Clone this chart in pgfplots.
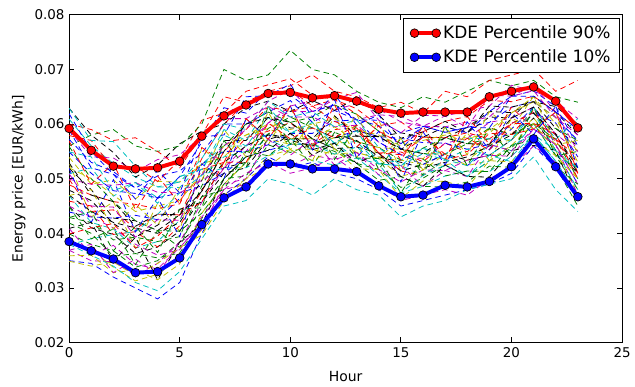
\documentclass[border=0pt]{standalone}
\usepackage{pgfplots}
\pgfplotsset{compat=1.18}
\usetikzlibrary{calc}
\usepackage{fontspec}
\setmainfont{DejaVu Sans}
\definecolor{mb}{rgb}{0,0,1}
\definecolor{mg}{rgb}{0,0.5,0}
\definecolor{mr}{rgb}{1,0,0}
\definecolor{mc}{rgb}{0,0.75,0.75}
\definecolor{mm}{rgb}{0.75,0,0.75}
\definecolor{my}{rgb}{0.75,0.75,0}
\definecolor{mk}{rgb}{0,0,0}
\newcommand{\ds}[2]{\addplot[color=#1, line width=0.6pt, dash pattern=on 4.2pt off 3pt, forget plot] table[x expr=\coordindex, y index=0, header=false, row sep=\\] {#2\\};}
\begin{document}
\begin{tikzpicture}
\begin{axis}[
  scale only axis, width=420pt, height=249pt,
  xmin=0, xmax=25, ymin=0.02, ymax=0.08,
  xtick={0,5,10,15,20,25},
  ytick={0.02,0.03,0.04,0.05,0.06,0.07,0.08},
  tick pos=both, tick align=inside,
  major tick length=4pt,
  axis line style={line width=0.8pt},
  tick style={black, line width=0.6pt},
  /pgf/number format/assume math mode=true,
  yticklabel style={/pgf/number format/fixed, /pgf/number format/fixed zerofill, /pgf/number format/precision=2},
  scaled y ticks=false,
  ticklabel style={font=\fontsize{10.2}{12}\selectfont},
  xlabel={Hour}, ylabel={Energy price [EUR/kWh]},
  label style={font=\fontsize{10.6}{12}\selectfont},
  xlabel style={yshift=-4pt},
  ylabel style={yshift=0pt},
  legend style={at={(1,1)}, anchor=north east, xshift=-1.5pt, yshift=-2.5pt,
    draw=black, line width=0.6pt, font=\fontsize{12.9}{15}\selectfont,
    row sep=3pt, inner xsep=5pt, inner ysep=3.5pt, cells={anchor=west},
    /tikz/every even column/.append style={column sep=10pt}},
  legend image code/.code={\draw[mark repeat=2, mark phase=1, #1] plot coordinates {(0pt,0pt) (8pt,0pt) (16.5pt,0pt)};},
]
\ds{mb}{0.0572\\0.0530\\0.0513\\0.0483\\0.0505\\0.0514\\0.0547\\0.0600\\0.0600\\0.0622\\0.0643\\0.0603\\0.0625\\0.0608\\0.0597\\0.0564\\0.0596\\0.0585\\0.0594\\0.0603\\0.0631\\0.0641\\0.0612\\0.0570}
\ds{mg}{0.0399\\0.0380\\0.0368\\0.0338\\0.0350\\0.0384\\0.0447\\0.0500\\0.0505\\0.0562\\0.0548\\0.0563\\0.0550\\0.0528\\0.0517\\0.0484\\0.0501\\0.0525\\0.0504\\0.0533\\0.0556\\0.0601\\0.0542\\0.0480}
\ds{mr}{0.0499\\0.0440\\0.0443\\0.0408\\0.0435\\0.0434\\0.0517\\0.0530\\0.0575\\0.0587\\0.0603\\0.0563\\0.0590\\0.0593\\0.0547\\0.0549\\0.0531\\0.0565\\0.0549\\0.0593\\0.0581\\0.0626\\0.0567\\0.0530}
\ds{mc}{0.0609\\0.0560\\0.0528\\0.0503\\0.0485\\0.0484\\0.0527\\0.0560\\0.0560\\0.0582\\0.0573\\0.0553\\0.0565\\0.0538\\0.0527\\0.0524\\0.0506\\0.0525\\0.0504\\0.0533\\0.0561\\0.0581\\0.0532\\0.0470}
\ds{mm}{0.0369\\0.0350\\0.0348\\0.0323\\0.0345\\0.0384\\0.0457\\0.0520\\0.0560\\0.0602\\0.0623\\0.0623\\0.0635\\0.0608\\0.0617\\0.0614\\0.0596\\0.0615\\0.0624\\0.0633\\0.0671\\0.0661\\0.0642\\0.0610}
\ds{my}{0.0529\\0.0430\\0.0458\\0.0373\\0.0455\\0.0404\\0.0557\\0.0520\\0.0610\\0.0562\\0.0633\\0.0533\\0.0615\\0.0538\\0.0607\\0.0514\\0.0586\\0.0535\\0.0584\\0.0533\\0.0611\\0.0591\\0.0622\\0.0510}
\ds{mk}{0.0449\\0.0410\\0.0398\\0.0363\\0.0375\\0.0404\\0.0467\\0.0520\\0.0530\\0.0582\\0.0573\\0.0573\\0.0555\\0.0558\\0.0547\\0.0514\\0.0526\\0.0545\\0.0534\\0.0543\\0.0571\\0.0611\\0.0552\\0.0510}
\ds{mb}{0.0549\\0.0510\\0.0478\\0.0473\\0.0465\\0.0474\\0.0487\\0.0510\\0.0540\\0.0552\\0.0563\\0.0563\\0.0575\\0.0588\\0.0577\\0.0574\\0.0566\\0.0565\\0.0554\\0.0563\\0.0601\\0.0621\\0.0602\\0.0540}
\ds{mg}{0.0419\\0.0400\\0.0358\\0.0363\\0.0355\\0.0364\\0.0427\\0.0500\\0.0540\\0.0592\\0.0613\\0.0593\\0.0585\\0.0568\\0.0557\\0.0534\\0.0556\\0.0575\\0.0564\\0.0573\\0.0581\\0.0601\\0.0572\\0.0500}
\ds{mr}{0.0489\\0.0470\\0.0458\\0.0453\\0.0445\\0.0454\\0.0537\\0.0600\\0.0640\\0.0652\\0.0663\\0.0633\\0.0645\\0.0618\\0.0587\\0.0564\\0.0586\\0.0605\\0.0614\\0.0643\\0.0641\\0.0651\\0.0622\\0.0590}
\ds{mc}{0.0469\\0.0420\\0.0408\\0.0373\\0.0385\\0.0424\\0.0507\\0.0540\\0.0550\\0.0572\\0.0553\\0.0533\\0.0525\\0.0538\\0.0507\\0.0474\\0.0486\\0.0505\\0.0514\\0.0513\\0.0541\\0.0581\\0.0532\\0.0460}
\ds{mm}{0.0589\\0.0540\\0.0538\\0.0513\\0.0535\\0.0544\\0.0577\\0.0610\\0.0610\\0.0632\\0.0613\\0.0613\\0.0595\\0.0598\\0.0567\\0.0544\\0.0536\\0.0565\\0.0574\\0.0603\\0.0611\\0.0631\\0.0582\\0.0550}
\ds{my}{0.0389\\0.0370\\0.0338\\0.0313\\0.0325\\0.0354\\0.0407\\0.0470\\0.0500\\0.0542\\0.0553\\0.0553\\0.0545\\0.0548\\0.0537\\0.0534\\0.0526\\0.0525\\0.0534\\0.0563\\0.0571\\0.0611\\0.0562\\0.0500}
\ds{mk}{0.0519\\0.0480\\0.0428\\0.0423\\0.0405\\0.0434\\0.0497\\0.0570\\0.0570\\0.0612\\0.0593\\0.0593\\0.0575\\0.0578\\0.0577\\0.0584\\0.0576\\0.0575\\0.0594\\0.0623\\0.0621\\0.0641\\0.0592\\0.0560}
\ds{mb}{0.0439\\0.0430\\0.0428\\0.0433\\0.0425\\0.0464\\0.0527\\0.0550\\0.0550\\0.0562\\0.0583\\0.0583\\0.0605\\0.0608\\0.0567\\0.0544\\0.0526\\0.0545\\0.0524\\0.0553\\0.0591\\0.0631\\0.0562\\0.0490}
\ds{mg}{0.0559\\0.0500\\0.0458\\0.0423\\0.0405\\0.0404\\0.0437\\0.0490\\0.0530\\0.0582\\0.0603\\0.0613\\0.0635\\0.0618\\0.0587\\0.0554\\0.0546\\0.0545\\0.0564\\0.0593\\0.0581\\0.0601\\0.0592\\0.0570}
\ds{mr}{0.0459\\0.0450\\0.0398\\0.0403\\0.0375\\0.0414\\0.0477\\0.0550\\0.0590\\0.0632\\0.0623\\0.0633\\0.0605\\0.0588\\0.0547\\0.0514\\0.0506\\0.0535\\0.0544\\0.0583\\0.0581\\0.0591\\0.0572\\0.0540}
\ds{mc}{0.0509\\0.0520\\0.0468\\0.0493\\0.0465\\0.0504\\0.0517\\0.0580\\0.0560\\0.0612\\0.0583\\0.0593\\0.0565\\0.0568\\0.0527\\0.0534\\0.0556\\0.0535\\0.0554\\0.0543\\0.0571\\0.0621\\0.0552\\0.0520}
\ds{mm}{0.0409\\0.0360\\0.0378\\0.0343\\0.0335\\0.0374\\0.0417\\0.0480\\0.0490\\0.0532\\0.0523\\0.0543\\0.0535\\0.0548\\0.0517\\0.0494\\0.0516\\0.0515\\0.0534\\0.0543\\0.0541\\0.0591\\0.0562\\0.0490}
\ds{my}{0.0539\\0.0490\\0.0498\\0.0463\\0.0495\\0.0494\\0.0527\\0.0540\\0.0580\\0.0592\\0.0573\\0.0573\\0.0595\\0.0568\\0.0557\\0.0554\\0.0536\\0.0585\\0.0574\\0.0583\\0.0621\\0.0641\\0.0612\\0.0530}
\ds{mk}{0.0479\\0.0460\\0.0418\\0.0393\\0.0415\\0.0444\\0.0457\\0.0510\\0.0520\\0.0572\\0.0583\\0.0553\\0.0565\\0.0588\\0.0577\\0.0554\\0.0576\\0.0595\\0.0584\\0.0613\\0.0611\\0.0651\\0.0622\\0.0580}
\ds{mb}{0.0619\\0.0550\\0.0508\\0.0483\\0.0465\\0.0504\\0.0567\\0.0630\\0.0620\\0.0662\\0.0653\\0.0623\\0.0635\\0.0608\\0.0607\\0.0584\\0.0596\\0.0595\\0.0584\\0.0623\\0.0651\\0.0661\\0.0632\\0.0560}
\ds{mg}{0.0429\\0.0420\\0.0388\\0.0393\\0.0385\\0.0394\\0.0487\\0.0560\\0.0600\\0.0622\\0.0603\\0.0573\\0.0555\\0.0528\\0.0497\\0.0504\\0.0486\\0.0485\\0.0494\\0.0523\\0.0521\\0.0581\\0.0522\\0.0450}
\ds{mr}{0.0579\\0.0570\\0.0518\\0.0523\\0.0495\\0.0534\\0.0607\\0.0620\\0.0660\\0.0672\\0.0683\\0.0653\\0.0645\\0.0628\\0.0597\\0.0604\\0.0576\\0.0575\\0.0584\\0.0573\\0.0601\\0.0621\\0.0572\\0.0510}
\ds{mc}{0.0379\\0.0390\\0.0398\\0.0403\\0.0435\\0.0474\\0.0507\\0.0520\\0.0520\\0.0542\\0.0563\\0.0563\\0.0545\\0.0558\\0.0527\\0.0524\\0.0546\\0.0535\\0.0524\\0.0563\\0.0551\\0.0601\\0.0542\\0.0520}
\ds{mm}{0.0499\\0.0490\\0.0488\\0.0493\\0.0475\\0.0474\\0.0497\\0.0520\\0.0550\\0.0602\\0.0633\\0.0643\\0.0625\\0.0638\\0.0627\\0.0604\\0.0596\\0.0595\\0.0604\\0.0613\\0.0651\\0.0671\\0.0622\\0.0550}
\ds{my}{0.0359\\0.0360\\0.0328\\0.0333\\0.0315\\0.0344\\0.0437\\0.0490\\0.0530\\0.0572\\0.0563\\0.0563\\0.0575\\0.0548\\0.0537\\0.0504\\0.0516\\0.0545\\0.0524\\0.0533\\0.0561\\0.0601\\0.0552\\0.0470}
\ds{mk}{0.0629\\0.0580\\0.0548\\0.0503\\0.0525\\0.0564\\0.0587\\0.0600\\0.0630\\0.0642\\0.0623\\0.0643\\0.0625\\0.0648\\0.0617\\0.0574\\0.0586\\0.0605\\0.0584\\0.0633\\0.0631\\0.0641\\0.0632\\0.0600}
\ds{mb}{0.0350\\0.0345\\0.0320\\0.0300\\0.0280\\0.0310\\0.0400\\0.0470\\0.0500\\0.0540\\0.0520\\0.0530\\0.0510\\0.0500\\0.0480\\0.0450\\0.0460\\0.0470\\0.0480\\0.0490\\0.0510\\0.0560\\0.0520\\0.0470}
\ds{mg}{0.0560\\0.0580\\0.0590\\0.0560\\0.0550\\0.0560\\0.0600\\0.0700\\0.0680\\0.0690\\0.0735\\0.0700\\0.0690\\0.0660\\0.0640\\0.0630\\0.0650\\0.0640\\0.0660\\0.0680\\0.0670\\0.0680\\0.0650\\0.0640}
\ds{mr}{0.0600\\0.0590\\0.0570\\0.0575\\0.0550\\0.0520\\0.0580\\0.0650\\0.0640\\0.0660\\0.0670\\0.0690\\0.0660\\0.0650\\0.0630\\0.0640\\0.0620\\0.0660\\0.0650\\0.0680\\0.0690\\0.0700\\0.0660\\0.0680}
\ds{mc}{0.0380\\0.0360\\0.0340\\0.0310\\0.0295\\0.0330\\0.0390\\0.0450\\0.0460\\0.0500\\0.0490\\0.0470\\0.0500\\0.0480\\0.0470\\0.0430\\0.0450\\0.0460\\0.0480\\0.0490\\0.0500\\0.0540\\0.0480\\0.0440}
\ds{mm}{0.0450\\0.0430\\0.0410\\0.0380\\0.0360\\0.0370\\0.0430\\0.0480\\0.0510\\0.0530\\0.0510\\0.0520\\0.0540\\0.0510\\0.0490\\0.0460\\0.0470\\0.0480\\0.0470\\0.0500\\0.0520\\0.0560\\0.0530\\0.0460}
\ds{my}{0.0520\\0.0500\\0.0470\\0.0440\\0.0450\\0.0460\\0.0510\\0.0560\\0.0580\\0.0600\\0.0590\\0.0600\\0.0610\\0.0590\\0.0580\\0.0560\\0.0570\\0.0580\\0.0570\\0.0590\\0.0620\\0.0650\\0.0600\\0.0550}
\ds{mk}{0.0470\\0.0440\\0.0420\\0.0410\\0.0400\\0.0420\\0.0480\\0.0530\\0.0560\\0.0580\\0.0570\\0.0560\\0.0580\\0.0570\\0.0540\\0.0530\\0.0520\\0.0530\\0.0540\\0.0560\\0.0580\\0.0620\\0.0580\\0.0520}
\ds{mb}{0.0519\\0.0420\\0.0498\\0.0403\\0.0465\\0.0394\\0.0527\\0.0500\\0.0610\\0.0572\\0.0633\\0.0553\\0.0645\\0.0538\\0.0587\\0.0494\\0.0586\\0.0525\\0.0604\\0.0553\\0.0621\\0.0581\\0.0632\\0.0520}
\ds{mg}{0.0429\\0.0440\\0.0368\\0.0413\\0.0365\\0.0444\\0.0447\\0.0570\\0.0520\\0.0632\\0.0563\\0.0613\\0.0535\\0.0598\\0.0517\\0.0574\\0.0506\\0.0595\\0.0524\\0.0593\\0.0541\\0.0631\\0.0542\\0.0550}
\ds{mr}{0.0569\\0.0490\\0.0528\\0.0443\\0.0505\\0.0454\\0.0557\\0.0530\\0.0610\\0.0572\\0.0633\\0.0553\\0.0635\\0.0558\\0.0597\\0.0534\\0.0596\\0.0535\\0.0614\\0.0563\\0.0631\\0.0591\\0.0622\\0.0510}
\ds{mc}{0.0629\\0.0570\\0.0568\\0.0523\\0.0485\\0.0494\\0.0537\\0.0600\\0.0590\\0.0642\\0.0613\\0.0623\\0.0595\\0.0608\\0.0557\\0.0524\\0.0556\\0.0545\\0.0574\\0.0573\\0.0571\\0.0631\\0.0572\\0.0610}
\ds{mm}{0.0369\\0.0380\\0.0328\\0.0353\\0.0325\\0.0384\\0.0407\\0.0490\\0.0500\\0.0572\\0.0543\\0.0573\\0.0525\\0.0548\\0.0507\\0.0524\\0.0486\\0.0515\\0.0504\\0.0563\\0.0551\\0.0591\\0.0562\\0.0470}
\ds{my}{0.0469\\0.0480\\0.0408\\0.0453\\0.0415\\0.0484\\0.0497\\0.0590\\0.0540\\0.0622\\0.0553\\0.0603\\0.0555\\0.0618\\0.0537\\0.0574\\0.0516\\0.0595\\0.0544\\0.0623\\0.0591\\0.0651\\0.0562\\0.0570}
\ds{mk}{0.0409\\0.0420\\0.0348\\0.0393\\0.0315\\0.0384\\0.0417\\0.0500\\0.0540\\0.0552\\0.0583\\0.0543\\0.0565\\0.0528\\0.0547\\0.0504\\0.0486\\0.0525\\0.0504\\0.0503\\0.0551\\0.0561\\0.0552\\0.0460}
\ds{mb}{0.0589\\0.0520\\0.0508\\0.0463\\0.0515\\0.0474\\0.0577\\0.0580\\0.0650\\0.0652\\0.0673\\0.0613\\0.0655\\0.0598\\0.0617\\0.0554\\0.0596\\0.0585\\0.0594\\0.0593\\0.0651\\0.0651\\0.0622\\0.0590}
\ds{mg}{0.0449\\0.0390\\0.0408\\0.0343\\0.0405\\0.0374\\0.0467\\0.0480\\0.0550\\0.0542\\0.0573\\0.0523\\0.0585\\0.0538\\0.0537\\0.0474\\0.0536\\0.0505\\0.0514\\0.0513\\0.0561\\0.0571\\0.0522\\0.0490}
\ds{mr}{0.0399\\0.0410\\0.0418\\0.0373\\0.0395\\0.0434\\0.0457\\0.0530\\0.0530\\0.0602\\0.0573\\0.0593\\0.0575\\0.0598\\0.0547\\0.0544\\0.0576\\0.0545\\0.0574\\0.0553\\0.0601\\0.0601\\0.0582\\0.0500}
\ds{mc}{0.0549\\0.0540\\0.0478\\0.0493\\0.0455\\0.0504\\0.0517\\0.0590\\0.0570\\0.0632\\0.0583\\0.0603\\0.0565\\0.0588\\0.0527\\0.0474\\0.0506\\0.0535\\0.0504\\0.0543\\0.0531\\0.0581\\0.0552\\0.0480}
\ds{mm}{0.0509\\0.0450\\0.0448\\0.0393\\0.0425\\0.0424\\0.0507\\0.0560\\0.0590\\0.0642\\0.0663\\0.0623\\0.0645\\0.0658\\0.0607\\0.0584\\0.0616\\0.0615\\0.0594\\0.0653\\0.0651\\0.0661\\0.0612\\0.0580}
\ds{my}{0.0349\\0.0340\\0.0348\\0.0323\\0.0345\\0.0374\\0.0397\\0.0460\\0.0500\\0.0522\\0.0553\\0.0533\\0.0555\\0.0518\\0.0517\\0.0464\\0.0496\\0.0495\\0.0484\\0.0533\\0.0531\\0.0571\\0.0542\\0.0500}
\ds{mk}{0.0529\\0.0470\\0.0458\\0.0413\\0.0435\\0.0434\\0.0477\\0.0550\\0.0600\\0.0612\\0.0603\\0.0573\\0.0615\\0.0578\\0.0577\\0.0554\\0.0546\\0.0575\\0.0564\\0.0563\\0.0611\\0.0631\\0.0582\\0.0510}
\addplot[color=mr, line width=3pt, mark=*, mark size=3.3pt, mark options={fill=mr, draw=black, line width=0.5pt}]
  coordinates {(0,0.0592)(1,0.0552)(2,0.0523)(3,0.0518)(4,0.0520)(5,0.0532)(6,0.0578)(7,0.0615)(8,0.0635)(9,0.0656)(10,0.0658)(11,0.0648)(12,0.0652)(13,0.0642)(14,0.0627)(15,0.0620)(16,0.0622)(17,0.0622)(18,0.0622)(19,0.0650)(20,0.0660)(21,0.0668)(22,0.0642)(23,0.0593)};
\addlegendentry{KDE Percentile 90\%}
\addplot[color=mb, line width=3pt, mark=*, mark size=3.3pt, mark options={fill=mb, draw=black, line width=0.5pt}]
  coordinates {(0,0.0385)(1,0.0368)(2,0.0353)(3,0.0328)(4,0.0330)(5,0.0355)(6,0.0416)(7,0.0465)(8,0.0485)(9,0.0527)(10,0.0527)(11,0.0518)(12,0.0518)(13,0.0513)(14,0.0487)(15,0.0467)(16,0.0470)(17,0.0488)(18,0.0485)(19,0.0495)(20,0.0522)(21,0.0573)(22,0.0522)(23,0.0467)};
\addlegendentry{KDE Percentile 10\%}
\end{axis}
\useasboundingbox ($(current axis.south west)+(-52.5pt,-30pt)$) rectangle ($(current axis.north east)+(3.75pt,11.25pt)$);
\end{tikzpicture}
\end{document}
